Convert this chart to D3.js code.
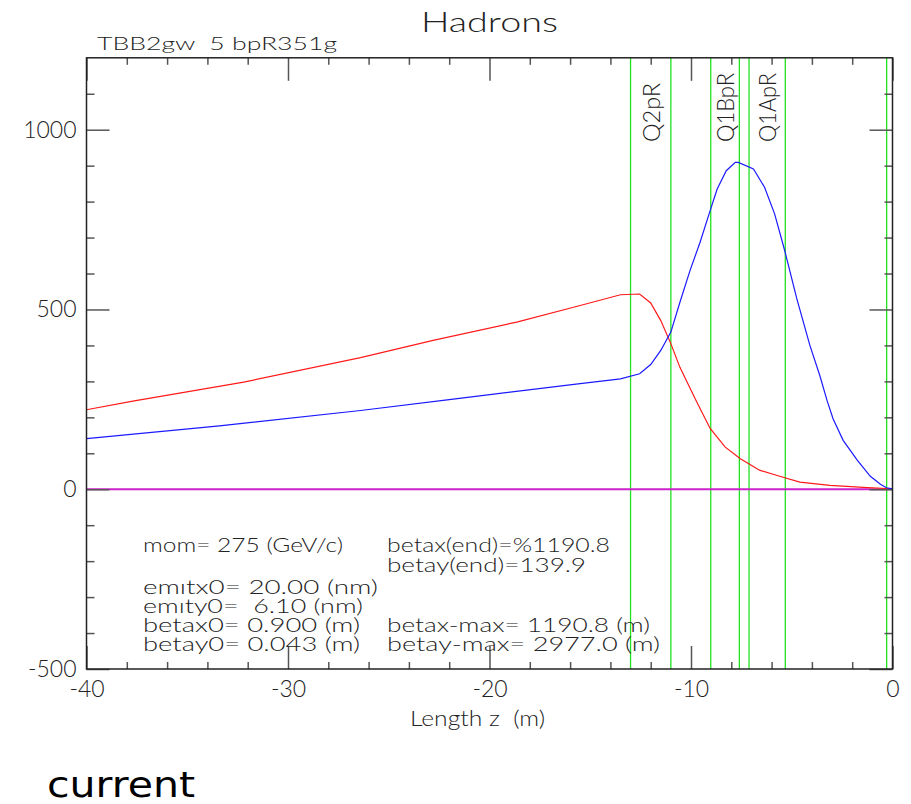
<!DOCTYPE html>
<html>
<head>
<meta charset="utf-8">
<script src="https://cdn.jsdelivr.net/npm/d3@7"></script>
<style>
  body { margin: 0; background: #fff; }
  svg { display: block; }
</style>
</head>
<body>
<svg id="chart" width="911" height="804"></svg>
<script>
// Beta functions along the hadron beam line, z in metres
const redZ    = [-40, -37.7, -32.2, -26.4, -22.8, -18.65, -15.5, -13.5, -12.55, -12.0, -11.5, -11.0, -10.55, -9.75, -9.05, -8.3, -7.55, -6.6, -5.6, -4.6, -3.1, -1.45, -0.3, 0];
const redBeta = [221, 245, 298, 366, 414, 465, 511, 541, 543, 518, 469, 405, 339, 247, 169, 117, 85, 53, 36, 20, 11, 5, 2, 1];

const blueZ    = [-40, -33.4, -26.4, -22.0, -15.5, -13.5, -12.55, -12.0, -11.5, -11.0, -10.55, -10.05, -9.55, -9.05, -8.7, -8.25, -7.8, -7.65, -6.9, -6.35, -5.85, -5.35, -4.75, -4.1, -3.6, -3.25, -2.95, -2.45, -1.75, -1.1, -0.6, -0.3, 0];
const blueBeta = [141, 176, 219, 249, 294, 307, 321, 347, 386, 437, 520, 608, 687, 775, 835, 886, 909, 909, 891, 840, 766, 664, 530, 400, 315, 247, 196, 136, 81, 36, 14, 4, 1];

// Zero-orbit reference line
const orbitZ = [-40, 0];
const orbitV = [0, 0];

// Magnet edges (green markers) and named quadrupoles
const magnetEdges = [-13.0, -11.0, -9.02, -7.6, -7.12, -5.32, -0.29];
const magnetNames = ["Q2pR", "Q1BpR", "Q1ApR"];
const magnetStart = [-13.0, -9.02, -7.12];
const magnetEnd   = [-11.0, -7.6, -5.32];

// Axis ticks
const xMajor = [-40, -30, -20, -10, 0];
const xMinor = d3.range(-38, 0, 2).filter(d => d % 10 !== 0);
const yMajor = [-500, 0, 500, 1000];
const yMinor = d3.range(-400, 1200, 100).filter(d => d % 500 !== 0);

// Run parameters: text, baseline, drawn width
const infoLeft = [
  ["mom= 275 (GeV/c)", 552, 200],
  ["emıtx0= 20.00 (nm)", 594, 235],
  ["emıty0=  6.10 (nm)", 613, 220],
  ["betax0= 0.900 (m)", 632, 217],
  ["betay0= 0.043 (m)", 651, 217]
];
const infoRight = [
  ["betax(end)=%1190.8", 552, 223],
  ["betay(end)=139.9", 572, 199],
  ["betax-max= 1190.8 (m)", 632, 263],
  ["betay-max= 2977.0 (m)", 651, 273]
];

const FONT = "Lato, 'DejaVu Sans', sans-serif";
const INK = "#222";

const svg = d3.select("#chart");
const x = d3.scaleLinear().domain([-40, 0]).range([86.5, 892.5]);
const y = d3.scaleLinear().domain([-500, 1200]).range([669, 57.8]);

const plotLeft = x(-40), plotRight = x(0), plotTop = y(1200), plotBottom = y(-500);

// Magnet markers
svg.append("g").selectAll("line").data(magnetEdges).join("line")
  .attr("x1", d => x(d)).attr("x2", d => x(d))
  .attr("y1", plotTop).attr("y2", plotBottom)
  .attr("stroke", "#22e022").attr("stroke-width", 1.3);

// Curves
const line = d3.line().x(d => x(d[0])).y(d => y(d[1]));
svg.append("path").datum(orbitZ.map((z, i) => [z, orbitV[i]]))
  .attr("d", line).attr("fill", "none").attr("stroke", "#cc22cc").attr("stroke-width", 2);
svg.append("path").datum(redZ.map((z, i) => [z, redBeta[i]]))
  .attr("d", line).attr("fill", "none").attr("stroke", "#ff1a1a").attr("stroke-width", 1.2);
svg.append("path").datum(blueZ.map((z, i) => [z, blueBeta[i]]))
  .attr("d", line).attr("fill", "none").attr("stroke", "#1a1aff").attr("stroke-width", 1.2);

// Axes: ticks point inward on all four sides
function styleAxis(g) {
  g.select(".domain").remove();
  g.selectAll(".tick line").attr("stroke", "#555").attr("stroke-width", 1.5);
  g.selectAll(".tick text").attr("fill", INK).attr("font-family", FONT)
    .attr("font-weight", 300).attr("font-size", 23);
}
const fmt = d => String(d);

svg.append("g").attr("transform", `translate(0,${plotBottom})`)
  .call(d3.axisBottom(x).tickValues(xMajor).tickSizeInner(-23).tickSizeOuter(0).tickPadding(12).tickFormat(fmt))
  .call(styleAxis);
svg.append("g").attr("transform", `translate(0,${plotBottom})`)
  .call(d3.axisBottom(x).tickValues(xMinor).tickSizeInner(-7).tickSizeOuter(0).tickFormat(""))
  .call(styleAxis);
svg.append("g").attr("transform", `translate(0,${plotTop})`)
  .call(d3.axisTop(x).tickValues(xMajor).tickSizeInner(-23).tickSizeOuter(0).tickFormat(""))
  .call(styleAxis);
svg.append("g").attr("transform", `translate(0,${plotTop})`)
  .call(d3.axisTop(x).tickValues(xMinor).tickSizeInner(-7).tickSizeOuter(0).tickFormat(""))
  .call(styleAxis);

svg.append("g").attr("transform", `translate(${plotLeft},0)`)
  .call(d3.axisLeft(y).tickValues(yMajor).tickSizeInner(-23).tickSizeOuter(0).tickPadding(10).tickFormat(fmt))
  .call(styleAxis);
svg.append("g").attr("transform", `translate(${plotLeft},0)`)
  .call(d3.axisLeft(y).tickValues(yMinor).tickSizeInner(-8).tickSizeOuter(0).tickFormat(""))
  .call(styleAxis);
svg.append("g").attr("transform", `translate(${plotRight},0)`)
  .call(d3.axisRight(y).tickValues(yMajor).tickSizeInner(-23).tickSizeOuter(0).tickFormat(""))
  .call(styleAxis);
svg.append("g").attr("transform", `translate(${plotRight},0)`)
  .call(d3.axisRight(y).tickValues(yMinor).tickSizeInner(-8).tickSizeOuter(0).tickFormat(""))
  .call(styleAxis);

// Frame
svg.append("rect")
  .attr("x", plotLeft).attr("y", plotTop)
  .attr("width", plotRight - plotLeft).attr("height", plotBottom - plotTop)
  .attr("fill", "none").attr("stroke", INK).attr("stroke-width", 1.5);

// Text helper
function label(str, px, py, size, opts = {}) {
  const t = svg.append("text")
    .attr("x", px).attr("y", py)
    .attr("font-family", FONT).attr("font-weight", 300)
    .attr("font-size", size).attr("fill", INK)
    .attr("text-anchor", opts.anchor || "start")
    .style("white-space", "pre")
    .text(str);
  if (opts.len) t.attr("textLength", opts.len).attr("lengthAdjust", "spacingAndGlyphs");
  return t;
}

label("Hadrons", (plotLeft + plotRight) / 2, 32, 28, { anchor: "middle", len: 137 });
label("TBB2gw  5 bpR351g", 97, 50, 18, { len: 240 });
label("Length z  (m)", 477.5, 726, 21, { anchor: "middle", len: 135 });

infoLeft.forEach(([s, by, w]) => label(s, 143, by, 20, { len: w }));
infoRight.forEach(([s, by, w]) => label(s, 387, by, 20, { len: w }));

// Quadrupole names, written upward between their edges
magnetNames.forEach((name, i) => {
  const cx = x((magnetStart[i] + magnetEnd[i]) / 2);
  const w = name.length === 4 ? 59 : 69;
  svg.append("text")
    .attr("transform", `translate(${cx + 9},142) rotate(-90)`)
    .attr("font-family", FONT).attr("font-weight", 300)
    .attr("font-size", 24).attr("fill", INK)
    .attr("textLength", w).attr("lengthAdjust", "spacingAndGlyphs")
    .text(name);
});

// Caption below the chart
svg.append("text")
  .attr("x", 47).attr("y", 797)
  .attr("font-family", "'DejaVu Sans', sans-serif")
  .attr("font-size", 36).attr("fill", "#000")
  .attr("textLength", 148).attr("lengthAdjust", "spacingAndGlyphs")
  .text("current");
</script>
</body>
</html>
